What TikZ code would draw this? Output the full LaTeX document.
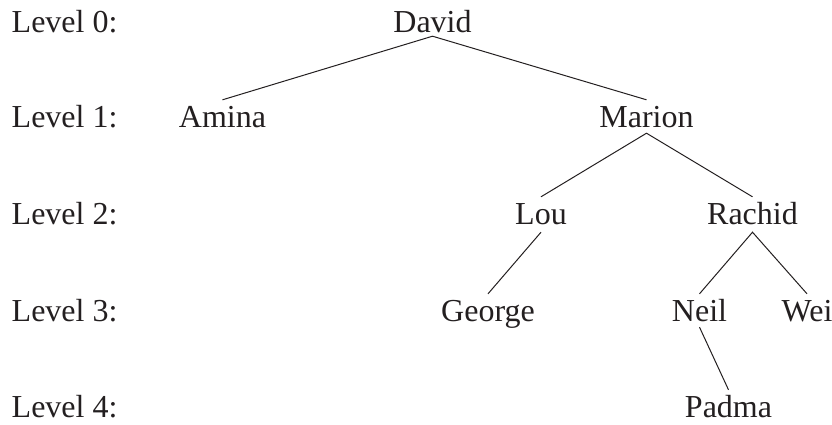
\documentclass[tikz,border=0pt]{standalone}
\usepackage{fontspec}
\setmainfont{Liberation Serif}
\definecolor{ink}{RGB}{35,31,32}
\begin{document}
\begin{tikzpicture}[x=1pt,y=1pt,
  person/.style={anchor=base,inner xsep=0pt,inner ysep=6pt,text height=21pt,text depth=0pt,text=ink,font=\fontsize{32}{38}\selectfont},
  levellabel/.style={anchor=base west,inner sep=0pt,text=ink,font=\fontsize{32}{38}\selectfont},
  edge/.style={line width=1pt,color=ink}]
\useasboundingbox (0,0) rectangle (832,-424);
% level labels
\node[levellabel] (l0) at (11.5,-32) {Level 0:};
\node[levellabel] (l1) at (11.5,-127) {Level 1:};
\node[levellabel] (l2) at (11.5,-224) {Level 2:};
\node[levellabel] (l3) at (11.5,-321) {Level 3:};
\node[levellabel] (l4) at (11.5,-417) {Level 4:};
% people
\node[person] (david)  at (432.5,-32)  {David};
\node[person] (amina)  at (222.5,-127) {Amina};
\node[person] (marion) at (646.5,-127) {Marion};
\node[person] (lou)    at (541,-224)   {Lou};
\node[person] (rachid) at (752.5,-224) {Rachid};
\node[person] (george) at (488,-321)   {George};
\node[person] (neil)   at (699.5,-321) {Neil};
\node[person] (wei)    at (807,-321)   {Wei};
\node[person] (padma)  at (728.5,-417) {Padma};
% edges
\draw[edge] (amina.north) -- ([yshift=2pt]david.south) -- (marion.north);
\draw[edge] (lou.north) -- (marion.south) -- (rachid.north);
\draw[edge] ([yshift=-2pt]lou.south) -- (george.north);
\draw[edge] (neil.north) -- ([yshift=-2pt]rachid.south) -- (wei.north);
\draw[edge] (neil.south) -- (padma.north);
\end{tikzpicture}
\end{document}
